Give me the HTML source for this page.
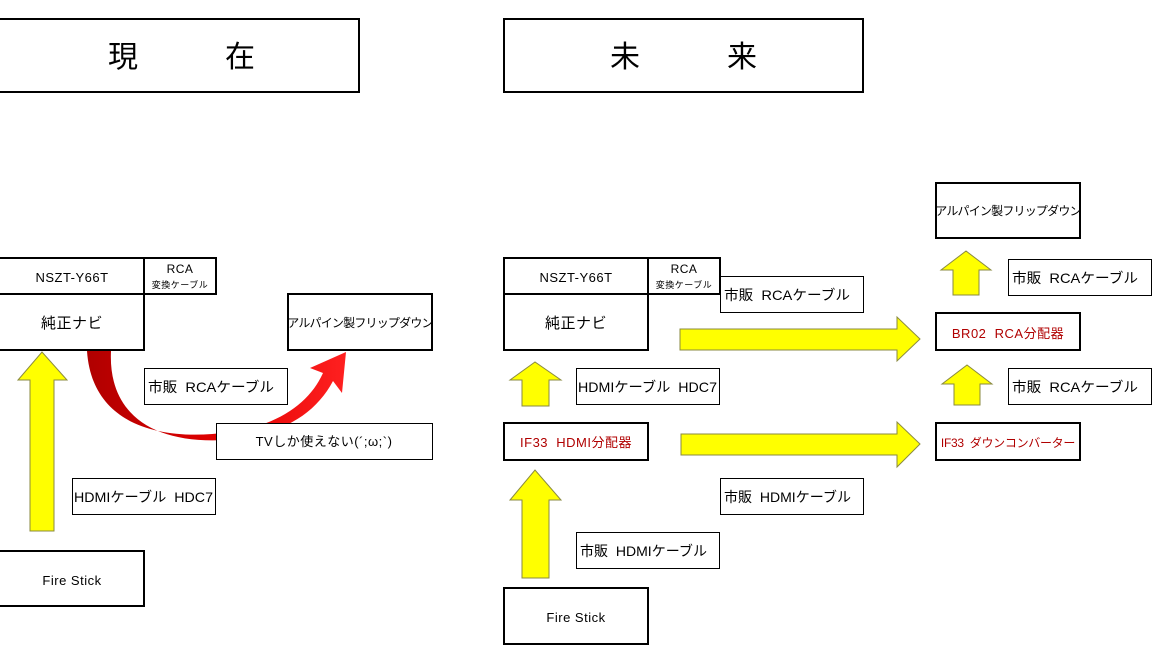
<!DOCTYPE html>
<html><head><meta charset="utf-8"><style>
html,body{margin:0;padding:0;background:#fff;width:1153px;height:663px;overflow:hidden}
text{font-family:"Liberation Sans","Noto Sans CJK JP",sans-serif;white-space:pre}
</style></head><body>
<svg width="1153" height="663" viewBox="0 0 1153 663" xmlns="http://www.w3.org/2000/svg">
<defs>
<linearGradient id="rg" x1="0" y1="0" x2="1" y2="0">
<stop offset="0" stop-color="#b00000"/><stop offset="0.5" stop-color="#e00000"/><stop offset="1" stop-color="#ff2020"/>
</linearGradient>
</defs>
<g fill="#fff" stroke="#000">
<rect x="-1" y="19" width="360" height="73" stroke-width="2"/>
<rect x="504" y="19" width="359" height="73" stroke-width="2"/>
<rect x="-1" y="258" width="145" height="36" stroke-width="2"/>
<rect x="144" y="258" width="72" height="36" stroke-width="2"/>
<rect x="-1" y="294" width="145" height="56" stroke-width="2"/>
<rect x="288" y="294" width="144" height="56" stroke-width="2"/>
<rect x="144.5" y="368.5" width="143" height="36" stroke-width="1"/>
<rect x="72.5" y="478.5" width="143" height="36" stroke-width="1"/>
<rect x="-1" y="551" width="145" height="55" stroke-width="2"/>
</g>
<path d="M87 351 C92 425 160 442 230 432 C280 425 310 402 323 373 L310 368 L346 352 L342 393 L333 381 C315 415 280 436 225 440 C150 444 108 412 111 351 Z" fill="url(#rg)"/>
<g fill="#fff" stroke="#000">
<rect x="216.5" y="423.5" width="216" height="36" stroke-width="1"/>
</g>
<path d="M30 531 L30 380 L18 380 L42 352 L67 380 L54 380 L54 531 Z" fill="#ffff00" stroke="#8a8a40" stroke-width="1"/>

<g fill="#fff" stroke="#000">
<rect x="504" y="258" width="144" height="36" stroke-width="2"/>
<rect x="648" y="258" width="72" height="36" stroke-width="2"/>
<rect x="504" y="294" width="144" height="56" stroke-width="2"/>
<rect x="720.5" y="276.5" width="143" height="36" stroke-width="1"/>
<rect x="576.5" y="368.5" width="143" height="36" stroke-width="1"/>
<rect x="504" y="423" width="144" height="37" stroke-width="2"/>
<rect x="720.5" y="478.5" width="143" height="36" stroke-width="1"/>
<rect x="576.5" y="532.5" width="143" height="36" stroke-width="1"/>
<rect x="504" y="588" width="144" height="56" stroke-width="2"/>
<rect x="936" y="183" width="144" height="55" stroke-width="2"/>
<rect x="1008.5" y="259.5" width="143" height="36" stroke-width="1"/>
<rect x="936" y="313" width="144" height="37" stroke-width="2"/>
<rect x="1008.5" y="368.5" width="143" height="36" stroke-width="1"/>
<rect x="936" y="423" width="144" height="37" stroke-width="2"/>
</g>
<g fill="#ffff00" stroke="#8a8a40" stroke-width="1">
<path d="M680 329 L897 329 L897 317 L920 339 L897 361 L897 350 L680 350 Z"/>
<path d="M681 434 L897 434 L897 422 L920 444 L897 467 L897 455 L681 455 Z"/>
<path d="M522 406 L522 380 L510 380 L535 362 L561 380 L549 380 L549 406 Z"/>
<path d="M522 578 L522 500 L510 500 L535 470 L561 500 L549 500 L549 578 Z"/>
<path d="M953 295 L953 270 L941 270 L966 251 L991 270 L979 270 L979 295 Z"/>
<path d="M954 405 L954 384 L942 384 L967 365 L992 384 L980 384 L980 405 Z"/>
</g>

<g font-size="14" fill="#000" text-anchor="middle" xml:space="preserve" letter-spacing="0.5">
<text x="123" y="67" font-size="30" letter-spacing="0">現</text>
<text x="240" y="67" font-size="30" letter-spacing="0">在</text>
<text x="625" y="67" font-size="30" letter-spacing="0">未</text>
<text x="742" y="67" font-size="30" letter-spacing="0">来</text>

<text x="72" y="282" font-size="13">NSZT-Y66T</text>
<text x="180" y="273" font-size="12">RCA</text>
<text x="180" y="288" font-size="9">変換ケーブル</text>
<text x="72" y="328" font-size="15">純正ナビ</text>
<text x="360" y="327" font-size="12" letter-spacing="-0.8">アルパイン製フリップダウン</text>
<text x="324" y="446" font-size="13">TVしか使えない(´;ω;`)</text>
<text x="72" y="585" font-size="13">Fire Stick</text>

<text x="576" y="282" font-size="13">NSZT-Y66T</text>
<text x="684" y="273" font-size="12">RCA</text>
<text x="684" y="288" font-size="9">変換ケーブル</text>
<text x="576" y="328" font-size="15">純正ナビ</text>
<text x="576" y="447" fill="#b00000" font-size="13">IF33  HDMI分配器</text>
<text x="576" y="622" font-size="13">Fire Stick</text>

<text x="1008" y="215" font-size="12" letter-spacing="-0.8">アルパイン製フリップダウン</text>
<text x="1008" y="338" fill="#b00000" font-size="13">BR02  RCA分配器</text>
<text x="1008" y="447" fill="#b00000" font-size="12" letter-spacing="-0.3">IF33  ダウンコンバーター</text>
</g>
<g font-size="14" fill="#000" xml:space="preserve" lengthAdjust="spacingAndGlyphs">
<text x="148" y="392" textLength="126" lengthAdjust="spacingAndGlyphs">市販  RCAケーブル</text>
<text x="74" y="502" textLength="139" lengthAdjust="spacingAndGlyphs">HDMIケーブル  HDC7</text>
<text x="724" y="300" textLength="126" lengthAdjust="spacingAndGlyphs">市販  RCAケーブル</text>
<text x="578" y="392" textLength="139" lengthAdjust="spacingAndGlyphs">HDMIケーブル  HDC7</text>
<text x="724" y="502" textLength="127" lengthAdjust="spacingAndGlyphs">市販  HDMIケーブル</text>
<text x="580" y="556" textLength="127" lengthAdjust="spacingAndGlyphs">市販  HDMIケーブル</text>
<text x="1012" y="283" textLength="126" lengthAdjust="spacingAndGlyphs">市販  RCAケーブル</text>
<text x="1012" y="392" textLength="126" lengthAdjust="spacingAndGlyphs">市販  RCAケーブル</text>
</g>
</svg>
</body></html>
